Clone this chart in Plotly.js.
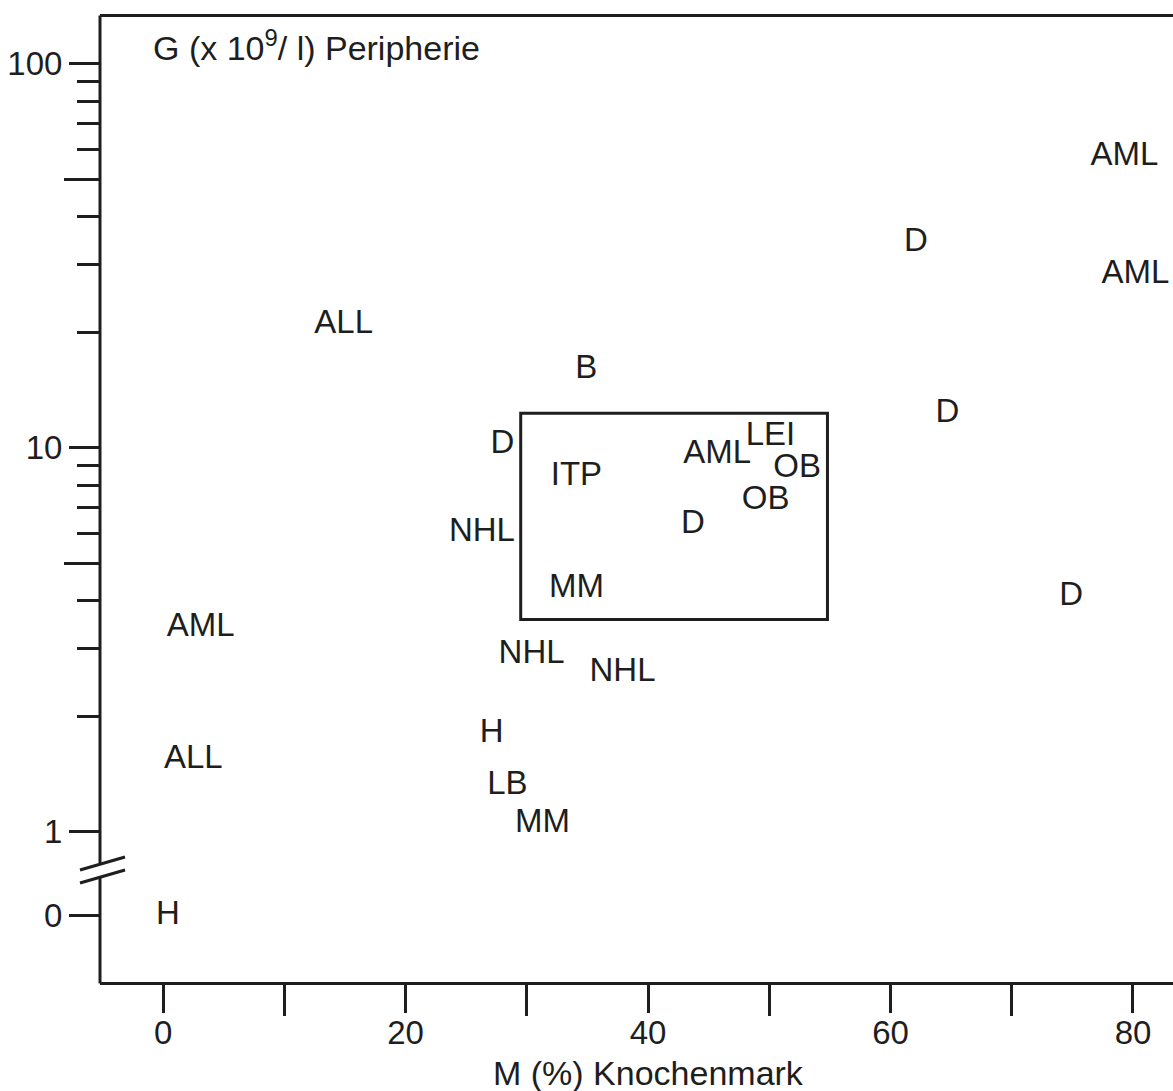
<!DOCTYPE html>
<html>
<head>
<meta charset="utf-8">
<script src="https://cdn.plot.ly/plotly-3.0.1.min.js"></script>
<style>
  html, body { margin: 0; padding: 0; background: #ffffff; }
  #chart { width: 1173px; height: 1091px; }
</style>
</head>
<body>
<div id="chart"></div>
<script>
// ---- data ----
const diagnoses = ['AML','D','AML','ALL','B','D','D','AML','LEI','OB','ITP','OB','D','NHL','MM','D','AML','NHL','NHL','H','ALL','LB','MM','H'];
const marrowPct = [79.3,62.1,80.2,14.9,34.9,64.7,28.0,45.7,50.1,52.3,34.1,49.7,43.7,26.3,34.1,74.9,3.1,30.4,37.9,27.1,2.5,28.4,31.3,0.4];
const periphG   = [57.4,34.2,28.3,20.9,16.0,12.3,10.2,9.6,10.7,8.8,8.4,7.3,6.3,6.0,4.3,4.1,3.4,2.9,2.6,1.8,1.54,1.32,1.05,0];

// normal-range box (M %, G)
const boxM = [29.5, 54.8];
const boxG = [3.57, 12.3];

// axis ticks
const xTickVals  = [0,20,40,60,80];
const xTickText  = ['0','20','40','60','80'];
const xMinorVals = [10,30,50,70];
const yMajorVals = [0,1,10,100];
const yMajorText = ['0','1','10','100'];
const yMinorVals = [2,3,4,6,7,8,9,20,30,40,60,70,80,90];
const yHalfVals  = [5,50];

// value 0 sits below the axis break on the log scale
const ZERO_POS = 0.604;
const toLogPos = v => (v === 0 ? ZERO_POS : v);

const INK = '#1e1e1e';
const FONT = '"Liberation Sans", Arial, Helvetica, sans-serif';
const FS = 33;
const FS_TITLE = 34;

const trace = {
  type: 'scatter',
  mode: 'text',
  x: marrowPct,
  y: periphG.map(toLogPos),
  text: diagnoses,
  textposition: 'middle center',
  textfont: { family: FONT, size: FS, color: INK },
  hoverinfo: 'skip',
  showlegend: false,
  cliponaxis: false
};

// empty trace to activate yaxis2 (half-decade ticks)
const trace2 = {
  type: 'scatter', mode: 'markers', x: [], y: [], yaxis: 'y2', xaxis: 'x',
  showlegend: false, hoverinfo: 'skip'
};

const yRange = [Math.log10(0.4064), Math.log10(132.4)];

// paper helpers for the broken-axis decorations
const H = 965, W = 1073, L = 100, T = 17;
const px = x => (x - L) / W;
const py = y => (T + H - y) / H;

const layout = {
  width: 1173,
  height: 1091,
  margin: { l: L, r: 0, t: T, b: 1091 - T - H },
  paper_bgcolor: '#ffffff',
  plot_bgcolor: '#ffffff',
  font: { family: FONT, size: FS, color: INK },
  showlegend: false,
  xaxis: {
    range: [-5.2, 83.3],
    tickmode: 'array',
    tickvals: xTickVals,
    ticktext: xTickText,
    ticks: 'outside',
    ticklen: 28,
    tickwidth: 3,
    tickcolor: INK,
    ticklabelstandoff: -9,
    tickfont: { family: FONT, size: FS, color: INK },
    minor: {
      tickmode: 'array',
      tickvals: xMinorVals,
      ticks: 'outside',
      ticklen: 31,
      tickwidth: 3,
      tickcolor: INK,
      showgrid: false
    },
    showline: true,
    linewidth: 3,
    linecolor: INK,
    mirror: true,
    showgrid: false,
    zeroline: false,
    fixedrange: true
  },
  yaxis: {
    type: 'log',
    range: yRange,
    tickmode: 'array',
    tickvals: yMajorVals.map(toLogPos),
    ticktext: yMajorText,
    ticks: 'outside',
    ticklen: 30,
    tickwidth: 3,
    tickcolor: INK,
    tickfont: { family: FONT, size: FS, color: INK },
    minor: {
      tickmode: 'array',
      tickvals: yMinorVals,
      ticks: 'outside',
      ticklen: 22,
      tickwidth: 3,
      tickcolor: INK,
      showgrid: false
    },
    showline: false,
    showgrid: false,
    zeroline: false,
    fixedrange: true
  },
  yaxis2: {
    type: 'log',
    range: yRange,
    overlaying: 'y',
    side: 'left',
    anchor: 'x',
    tickmode: 'array',
    tickvals: yHalfVals,
    ticks: 'outside',
    ticklen: 35,
    tickwidth: 3,
    tickcolor: INK,
    showticklabels: false,
    showline: false,
    showgrid: false,
    zeroline: false,
    fixedrange: true
  },
  shapes: [
    // normal-range box
    { type: 'rect', xref: 'x', yref: 'y', x0: boxM[0], x1: boxM[1], y0: boxG[0], y1: boxG[1],
      line: { color: INK, width: 3 }, fillcolor: 'rgba(0,0,0,0)', layer: 'below' },
    // broken y axis line
    { type: 'line', xref: 'paper', yref: 'paper', x0: 0, x1: 0, y0: 1.0015, y1: py(863),
      line: { color: INK, width: 3 } },
    { type: 'line', xref: 'paper', yref: 'paper', x0: 0, x1: 0, y0: py(877), y1: -0.0015,
      line: { color: INK, width: 3 } },
    // break slashes
    { type: 'line', xref: 'paper', yref: 'paper', x0: px(80), x1: px(125), y0: py(870), y1: py(857),
      line: { color: INK, width: 3 } },
    { type: 'line', xref: 'paper', yref: 'paper', x0: px(80), x1: px(125), y0: py(883), y1: py(870),
      line: { color: INK, width: 3 } }
  ],
  annotations: [
    { text: 'G (x 10<sup>9</sup>/ l) Peripherie', xref: 'paper', yref: 'paper',
      x: px(151), y: py(46), xanchor: 'left', yanchor: 'middle', showarrow: false,
      font: { family: FONT, size: FS_TITLE, color: INK } },
    { text: 'M (%) Knochenmark', xref: 'x', yref: 'paper',
      x: 40, y: py(1073), xanchor: 'center', yanchor: 'middle', showarrow: false,
      font: { family: FONT, size: FS_TITLE, color: INK } }
  ]
};

Plotly.newPlot('chart', [trace, trace2], layout, { displayModeBar: false, staticPlot: true });
</script>
</body>
</html>
